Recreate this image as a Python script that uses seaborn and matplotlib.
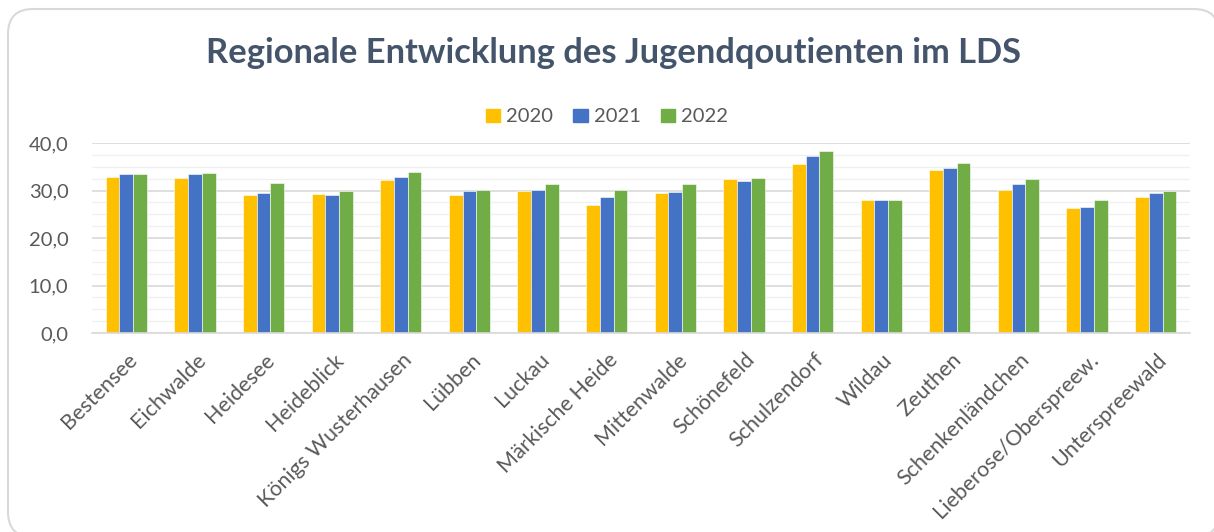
import matplotlib
matplotlib.use("Agg")
import matplotlib.pyplot as plt
import matplotlib.transforms as mtransforms
import numpy as np
import pandas as pd
import seaborn as sns
from matplotlib.patches import FancyBboxPatch
from matplotlib.ticker import FixedLocator, FuncFormatter, MultipleLocator

sns.set_theme(style="white")
plt.rcParams["font.family"] = ["Lato", "DejaVu Sans"]

GEMEINDEN = [
    "Bestensee", "Eichwalde", "Heidesee", "Heideblick", "Königs Wusterhausen",
    "Lübben", "Luckau", "Märkische Heide", "Mittenwalde", "Schönefeld",
    "Schulzendorf", "Wildau", "Zeuthen", "Schenkenländchen",
    "Lieberose/Oberspreew.", "Unterspreewald",
]
JAHRE = ["2020", "2021", "2022"]
WERTE_2020 = [32.8, 32.7, 29.0, 29.2, 32.3, 29.0, 29.8, 27.0, 29.4, 32.5, 35.6, 28.0, 34.4, 30.1, 26.4, 28.7]
WERTE_2021 = [33.5, 33.5, 29.5, 29.1, 32.9, 29.8, 30.1, 28.7, 29.6, 32.0, 37.2, 28.0, 34.8, 31.4, 26.5, 29.4]
WERTE_2022 = [33.5, 33.7, 31.5, 29.9, 34.0, 30.1, 31.3, 30.1, 31.3, 32.6, 38.3, 28.1, 35.8, 32.5, 28.1, 30.0]
FARBEN = ["#FFC000", "#4472C4", "#70AD47"]

df = pd.DataFrame({
    "Gemeinde": GEMEINDEN * 3,
    "Jahr": [j for j in JAHRE for _ in GEMEINDEN],
    "Wert": WERTE_2020 + WERTE_2021 + WERTE_2022,
})

W, H = 1214, 532
fig = plt.figure(figsize=(W / 100, H / 100), dpi=100)
fig.patch.set_facecolor("white")

# rounded chart frame, in pixel coordinates (cut off at right/bottom like the source)
border = FancyBboxPatch(
    (8, -5), 1211, H - 9 + 5,
    boxstyle="round,pad=0,rounding_size=25",
    transform=mtransforms.IdentityTransform(), facecolor="white",
    edgecolor="#D9D9D9", linewidth=1.5, zorder=-10,
)
fig.add_artist(border)

ax = fig.add_axes([92 / W, 1 - 333 / H, (1190 - 92) / W, (333 - 143) / H])
ax.set_zorder(5)
ax.set_facecolor("none")
sns.barplot(
    data=df, x="Gemeinde", y="Wert", hue="Jahr", palette=FARBEN, saturation=1,
    width=0.6, gap=0, edgecolor="white", linewidth=0.4, ax=ax,
)

ax.set_ylim(0, 40)
ax.set_xlim(-0.5, len(GEMEINDEN) - 0.5)
ax.yaxis.set_major_locator(MultipleLocator(10))
ax.yaxis.set_minor_locator(MultipleLocator(2.5))
ax.yaxis.set_major_formatter(FuncFormatter(lambda v, p: f"{v:.1f}".replace(".", ",")))
ax.grid(axis="y", which="major", color="#D9D9D9", linewidth=1.2, zorder=0)
ax.grid(axis="y", which="minor", color="#F0F0F0", linewidth=1.0, zorder=0)
ax.set_axisbelow(True)
for s in ["top", "right", "left"]:
    ax.spines[s].set_visible(False)
ax.spines["bottom"].set_color("#D9D9D9")
ax.spines["bottom"].set_linewidth(1.2)

ax.set_xlabel("")
ax.set_ylabel("")
ax.tick_params(axis="y", which="both", length=0, labelsize=14.5, colors="#595959", pad=17)
ax.tick_params(axis="x", which="major", length=0, labelsize=15.5, colors="#595959", pad=12)
ax.xaxis.set_minor_locator(FixedLocator(np.arange(-0.5, len(GEMEINDEN), 1.0)))
ax.tick_params(axis="x", which="minor", length=7, color="#D9D9D9", width=1.2)
shift = mtransforms.ScaledTranslation(1 / 100, 0, fig.dpi_scale_trans)
for lbl in ax.get_xticklabels():
    lbl.set_rotation(45)
    lbl.set_ha("right")
    lbl.set_rotation_mode("anchor")
    lbl.set_transform(lbl.get_transform() + shift)

ax.legend_.remove()
handles = [plt.Rectangle((0, 0), 1, 1, color=c) for c in FARBEN]
fig.legend(
    handles, JAHRE, loc="center", bbox_to_anchor=(0.5, 1 - 117 / H), ncol=3,
    frameon=False, fontsize=14.5, handlelength=0.7, handleheight=0.65,
    handletextpad=0.3, columnspacing=1.0, labelcolor="#595959",
)

fig.text(
    0.505, 1 - 53 / H, "Regionale Entwicklung des Jugendqoutienten im LDS",
    ha="center", va="center", fontsize=24.8, fontweight="bold", color="#44546A",
)

fig.savefig("out.png", dpi=100)
